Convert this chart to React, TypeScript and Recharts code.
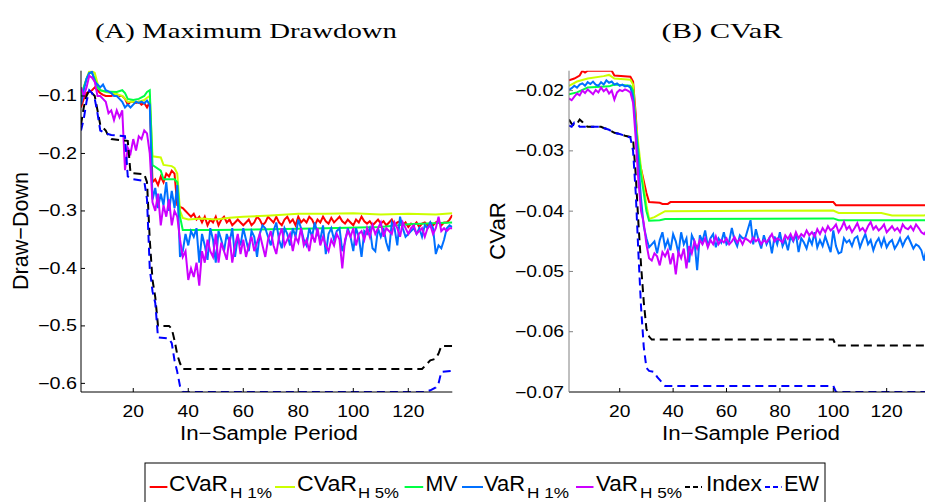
import React from 'react';
import { LineChart, Line, XAxis, YAxis } from 'recharts';

// ---------- Panel A: Maximum Drawdown (period 1..136) ----------
const ddCVaR1: number[] = [
  -0.12,-0.105,-0.095,-0.093,-0.09,-0.085,-0.09,-0.095,-0.098,-0.1,-0.1,-0.1,-0.098,-0.097,-0.1,-0.1,-0.105,-0.115,-0.11,-0.11,-0.112,-0.11,-0.115,-0.112,-0.12,-0.11,-0.25,
  -0.245,-0.255,-0.24,-0.25,-0.235,-0.24,-0.23,-0.235,-0.29,
  -0.293,-0.295,-0.3,-0.305,-0.31,-0.305,-0.315,-0.31,-0.32,-0.31,
  -0.325,-0.315,-0.32,-0.31,-0.325,-0.315,-0.31,-0.32,-0.315,-0.325,
  -0.32,-0.315,-0.32,-0.325,-0.32,-0.315,-0.325,-0.32,-0.31,-0.315,
  -0.325,-0.32,-0.31,-0.315,-0.32,-0.31,-0.32,-0.325,-0.315,-0.31,
  -0.32,-0.315,-0.325,-0.31,-0.32,-0.315,-0.32,-0.31,-0.315,-0.325,
  -0.315,-0.32,-0.31,-0.318,-0.322,-0.312,-0.32,-0.315,-0.31,-0.318,
  -0.322,-0.315,-0.32,-0.325,-0.315,-0.32,-0.31,-0.318,-0.322,-0.318,
  -0.325,-0.32,-0.315,-0.322,-0.318,-0.325,-0.32,-0.315,-0.325,-0.32,
  -0.318,-0.325,-0.32,-0.328,-0.322,-0.325,-0.32,-0.328,-0.322,-0.32,
  -0.325,-0.32,-0.325,-0.32,-0.318,-0.325,-0.32,-0.32,-0.315,-0.307,
];
const ddCVaR5P: number[] = [1,2,3,4,5,6,7,8,10,12,14,16,17,18,22,24,25,26,27,30,31,34,35,36,37,38,40,45,50,55,60,70,80,90,100,110,120,130,136];
const ddCVaR5V: number[] = [-0.105,-0.085,-0.07,-0.057,-0.057,-0.06,-0.078,-0.09,-0.093,-0.095,-0.097,-0.1,-0.105,-0.11,-0.11,-0.107,-0.103,-0.1,-0.205,-0.207,-0.22,-0.222,-0.225,-0.235,-0.3,-0.312,-0.315,-0.313,-0.315,-0.312,-0.31,-0.308,-0.305,-0.305,-0.304,-0.306,-0.305,-0.306,-0.304];
const ddMVP: number[] = [1,2,3,4,5,6,7,8,10,14,16,17,18,20,22,24,25,26,27,30,31,35,36,37,38,50,70,90,110,120,136];
const ddMVV: number[] = [-0.1,-0.085,-0.07,-0.06,-0.06,-0.07,-0.085,-0.09,-0.092,-0.093,-0.09,-0.095,-0.105,-0.107,-0.105,-0.1,-0.093,-0.09,-0.22,-0.23,-0.245,-0.245,-0.25,-0.31,-0.333,-0.333,-0.332,-0.33,-0.328,-0.323,-0.32];
const ddVaR1: number[] = [
  -0.115,-0.09,-0.07,-0.06,-0.058,-0.075,-0.08,-0.085,-0.08,-0.09,-0.092,-0.095,-0.1,-0.1,-0.105,-0.11,-0.12,-0.115,-0.12,-0.115,-0.11,-0.112,-0.11,-0.113,-0.108,-0.115,
  -0.28,-0.26,-0.295,-0.27,-0.29,-0.25,-0.3,-0.265,-0.295,-0.255,
  -0.38,-0.37,-0.34,-0.36,-0.335,-0.345,-0.33,-0.39,-0.34,-0.36,
  -0.385,-0.33,-0.35,-0.39,-0.335,-0.35,-0.37,-0.34,-0.355,-0.33,
  -0.38,-0.345,-0.36,-0.33,-0.35,-0.37,-0.335,-0.345,-0.38,-0.34,
  -0.325,-0.33,-0.345,-0.36,-0.335,-0.32,-0.35,-0.365,-0.33,-0.34,
  -0.36,-0.33,-0.345,-0.315,-0.33,-0.35,-0.36,-0.33,-0.345,-0.32,
  -0.34,-0.35,-0.325,-0.375,-0.34,-0.33,-0.35,-0.335,-0.33,-0.37,
  -0.355,-0.33,-0.345,-0.37,-0.33,-0.345,-0.38,-0.335,-0.34,-0.33,
  -0.365,-0.37,-0.33,-0.345,-0.33,-0.355,-0.37,-0.32,-0.33,-0.36,
  -0.31,-0.33,-0.345,-0.34,-0.335,-0.33,-0.34,-0.33,-0.345,-0.325,
  -0.33,-0.32,-0.33,-0.375,-0.36,-0.365,-0.35,-0.33,-0.325,-0.328,
];
const ddVaR5: number[] = [
  -0.085,-0.1,-0.085,-0.065,-0.068,-0.075,-0.1,-0.1,-0.105,-0.11,-0.13,-0.125,-0.142,-0.125,-0.137,-0.125,-0.229,-0.19,-0.2,-0.175,-0.195,-0.17,-0.175,-0.16,-0.165,-0.2,-0.285,
  -0.3,-0.27,-0.325,-0.29,-0.31,-0.28,-0.325,-0.3,-0.31,
  -0.35,-0.38,-0.37,-0.42,-0.4,-0.415,-0.39,-0.43,-0.37,-0.39,
  -0.35,-0.37,-0.38,-0.34,-0.39,-0.355,-0.37,-0.385,-0.345,-0.39,
  -0.36,-0.34,-0.375,-0.35,-0.38,-0.36,-0.345,-0.37,-0.355,-0.34,
  -0.36,-0.38,-0.35,-0.335,-0.36,-0.375,-0.345,-0.33,-0.36,-0.35,
  -0.34,-0.37,-0.345,-0.355,-0.33,-0.36,-0.35,-0.37,-0.34,-0.355,
  -0.33,-0.36,-0.345,-0.36,-0.37,-0.35,-0.36,-0.34,-0.35,-0.4,
  -0.35,-0.335,-0.345,-0.33,-0.36,-0.34,-0.335,-0.35,-0.33,-0.345,
  -0.325,-0.34,-0.33,-0.32,-0.345,-0.33,-0.335,-0.34,-0.32,-0.33,
  -0.345,-0.32,-0.33,-0.34,-0.33,-0.325,-0.34,-0.335,-0.33,-0.345,
  -0.33,-0.325,-0.34,-0.33,-0.31,-0.335,-0.33,-0.335,-0.33,-0.33,
];
const ddIndexP: number[] = [1,2,3,4,5,6,7,8,9,10,11,12,18,19,24,25,26,27,28,29,33,34,35,36,37,38,125,126,128,130,131,132,136];
const ddIndexV: number[] = [-0.15,-0.12,-0.1,-0.09,-0.095,-0.1,-0.125,-0.15,-0.155,-0.16,-0.17,-0.175,-0.178,-0.234,-0.236,-0.25,-0.35,-0.42,-0.45,-0.5,-0.5,-0.505,-0.525,-0.55,-0.565,-0.575,-0.575,-0.57,-0.56,-0.557,-0.548,-0.535,-0.535];
const ddEWP: number[] = [1,2,3,4,5,6,7,8,10,12,17,18,20,24,25,26,27,28,29,33,34,35,36,37,38,126,128,130,131,132,136];
const ddEWV: number[] = [-0.16,-0.14,-0.11,-0.09,-0.095,-0.105,-0.13,-0.16,-0.165,-0.168,-0.17,-0.24,-0.245,-0.248,-0.28,-0.4,-0.44,-0.46,-0.52,-0.522,-0.53,-0.56,-0.58,-0.605,-0.615,-0.615,-0.612,-0.607,-0.6,-0.58,-0.578];

// ---------- Panel B: CVaR ----------
const cvCVaR1P: number[] = [1,3,5,6,7,8,17,18,24,25,26,27,28,29,30,31,35,36,38,39,100,101,136];
const cvCVaR1V: number[] = [-0.0183,-0.018,-0.0175,-0.0167,-0.017,-0.0167,-0.0167,-0.0175,-0.0177,-0.0185,-0.024,-0.031,-0.033,-0.035,-0.037,-0.0385,-0.0386,-0.0388,-0.0388,-0.0385,-0.0385,-0.039,-0.039];
const cvCVaR5P: number[] = [1,4,8,14,16,18,24,25,26,28,30,31,33,35,37,100,102,118,120,122,134,136];
const cvCVaR5V: number[] = [-0.0192,-0.0185,-0.018,-0.0176,-0.0174,-0.018,-0.0182,-0.019,-0.025,-0.033,-0.039,-0.0413,-0.041,-0.0405,-0.04,-0.0399,-0.0403,-0.0403,-0.0405,-0.0407,-0.0407,-0.0405];
const cvMVP: number[] = [1,4,8,16,18,24,25,26,28,30,31,35,37,100,102,136];
const cvMVV: number[] = [-0.0206,-0.0203,-0.0195,-0.0193,-0.019,-0.0192,-0.02,-0.026,-0.034,-0.04,-0.0416,-0.0415,-0.0413,-0.0412,-0.0415,-0.0415];
const cvVaR1: number[] = [
  -0.0199,-0.0196,-0.0192,-0.0195,-0.019,-0.0188,-0.0192,-0.0186,-0.0189,-0.0185,-0.019,-0.0192,-0.0186,-0.019,-0.0183,-0.0187,-0.0185,-0.019,-0.0188,-0.0192,-0.019,-0.0193,-0.0192,-0.0195,-0.021,
  -0.026,-0.032,-0.038,-0.0425,-0.0445,-0.046,-0.0455,-0.045,
  -0.047,-0.0448,-0.0435,-0.046,-0.0448,-0.0465,-0.0438,-0.045,-0.047,-0.0435,
  -0.0455,-0.0445,-0.0485,-0.044,-0.045,-0.0498,-0.044,-0.045,-0.0432,-0.0458,
  -0.0445,-0.0438,-0.046,-0.0445,-0.0452,-0.0435,-0.0455,-0.045,-0.0428,-0.0448,
  -0.0458,-0.044,-0.0445,-0.0445,-0.043,-0.0415,-0.0455,-0.043,-0.0448,-0.0462,
  -0.044,-0.0455,-0.0445,-0.047,-0.0442,-0.0455,-0.0435,-0.0458,-0.0448,-0.0465,
  -0.0442,-0.045,-0.0438,-0.0468,-0.0445,-0.0452,-0.0462,-0.0445,-0.0455,-0.0435,
  -0.046,-0.0448,-0.0458,-0.0442,-0.0455,-0.0468,-0.0432,-0.0458,-0.047,-0.0468,
  -0.0445,-0.0452,-0.0448,-0.0458,-0.0445,-0.0442,-0.046,-0.0448,-0.0438,-0.0455,
  -0.0448,-0.0465,-0.0452,-0.0445,-0.0458,-0.0445,-0.046,-0.0452,-0.0448,-0.0462,
  -0.0455,-0.0445,-0.0458,-0.0448,-0.0442,-0.0452,-0.0462,-0.0455,-0.0458,-0.0465,
  -0.0482,-0.046,-0.0455,
];
const cvVaR5: number[] = [
  -0.0213,-0.0216,-0.021,-0.0205,-0.0208,-0.02,-0.0204,-0.0198,-0.0202,-0.0206,-0.0199,-0.0203,-0.0195,-0.0201,-0.0197,-0.0205,-0.02,-0.0215,-0.0203,-0.0199,-0.0201,-0.0198,-0.02,-0.0203,-0.022,
  -0.028,-0.035,-0.04,-0.042,-0.0455,-0.0478,-0.0482,-0.047,-0.0475,-0.049,-0.0468,
  -0.0475,-0.0465,-0.0488,-0.047,-0.0505,-0.0468,-0.0478,-0.0462,-0.0495,-0.0458,
  -0.047,-0.045,-0.0462,-0.0448,-0.0455,-0.0445,-0.046,-0.0448,-0.0455,-0.0442,
  -0.0455,-0.0448,-0.0452,-0.0445,-0.0455,-0.045,-0.0443,-0.0452,-0.0446,-0.0455,
  -0.0445,-0.0448,-0.0452,-0.0444,-0.045,-0.0446,-0.0455,-0.0448,-0.0452,-0.0445,
  -0.0438,-0.045,-0.0445,-0.0448,-0.0452,-0.044,-0.0446,-0.0438,-0.0448,-0.0435,
  -0.0445,-0.0438,-0.0442,-0.0432,-0.044,-0.0435,-0.0442,-0.043,-0.0438,-0.0428,
  -0.0435,-0.0425,-0.0432,-0.0428,-0.0422,-0.0435,-0.0428,-0.0418,-0.043,-0.0425,
  -0.0435,-0.0428,-0.042,-0.0432,-0.0428,-0.0435,-0.0425,-0.0418,-0.043,-0.0425,
  -0.0432,-0.0428,-0.0422,-0.0435,-0.043,-0.0425,-0.0432,-0.0428,-0.0435,-0.0422,
  -0.0428,-0.043,-0.0425,-0.0432,-0.0422,-0.0428,-0.0435,-0.0438,-0.0432,-0.044,
];
const cvIndexP: number[] = [1,2,3,4,5,6,7,8,13,14,16,18,20,22,24,25,26,27,28,29,30,31,32,100,101,136];
const cvIndexV: number[] = [-0.0248,-0.0255,-0.0258,-0.0255,-0.0248,-0.0252,-0.0258,-0.026,-0.026,-0.0262,-0.0265,-0.027,-0.0272,-0.0275,-0.0277,-0.028,-0.034,-0.042,-0.049,-0.055,-0.0595,-0.0608,-0.0613,-0.0613,-0.0623,-0.0623];
const cvEWP: number[] = [1,2,3,4,5,13,14,16,18,20,22,24,25,26,27,28,29,30,31,33,34,35,36,37,100,101,136];
const cvEWV: number[] = [-0.0258,-0.026,-0.0253,-0.0255,-0.026,-0.026,-0.0262,-0.0265,-0.027,-0.0272,-0.0275,-0.0278,-0.03,-0.037,-0.047,-0.056,-0.0625,-0.066,-0.0665,-0.0667,-0.0675,-0.068,-0.0685,-0.069,-0.069,-0.07,-0.07];

const xTicks: number[] = [20, 40, 60, 80, 100, 120];
const ddTicks: number[] = [-0.6, -0.5, -0.4, -0.3, -0.2, -0.1];
const cvTicks: number[] = [-0.07, -0.06, -0.05, -0.04, -0.03, -0.02];

const seriesNames = ['CVaR', 'CVaR', 'MV', 'VaR', 'VaR', 'Index', 'EW'];
const seriesSubs = ['H 1%', 'H 5%', '', 'H 1%', 'H 5%', '', ''];
const colors = ['#ff0000', '#ccff00', '#00ff44', '#0070ff', '#cc00ff', '#000000', '#0000ff'];
const dashes = ['', '', '', '', '', '8 5', '8 5'];

const full = (vals: number[]) => vals.map((v, i) => ({ p: i + 1, v }));
const pairs = (ps: number[], vs: number[]) => ps.map((p, i) => ({ p, v: vs[i] }));

const ddSeries = [
  full(ddCVaR1), pairs(ddCVaR5P, ddCVaR5V), pairs(ddMVP, ddMVV), full(ddVaR1), full(ddVaR5),
  pairs(ddIndexP, ddIndexV), pairs(ddEWP, ddEWV),
];
const cvSeries = [
  pairs(cvCVaR1P, cvCVaR1V), pairs(cvCVaR5P, cvCVaR5V), pairs(cvMVP, cvMVV), full(cvVaR1), full(cvVaR5),
  pairs(cvIndexP, cvIndexV), pairs(cvEWP, cvEWV),
];

const SANS = 'Liberation Sans, Arial, Helvetica, sans-serif';
const SERIF = 'Liberation Serif, Times New Roman, serif';

const fmt = (v: number, d: number) => (v < 0 ? '\u2212' : '') + Math.abs(v).toFixed(d);

function Panel(props: {
  series: { p: number; v: number }[][];
  width: number; left: number; right: number;
  yDomain: [number, number]; yTicks: number[]; decimals: number; yLen: number;
  yAxisColor: string; yMargin: number;
}) {
  const { series, width, left, right, yDomain, yTicks, decimals, yLen, yAxisColor, yMargin } = props;
  return (
    <LineChart width={width} height={502} margin={{ top: 70.7, left, right, bottom: 80 }}>
      <XAxis
        type="number" dataKey="p" domain={[1, 136]} ticks={xTicks} allowDataOverflow
        height={30} tickSize={-4} tickMargin={6}
        axisLine={{ stroke: '#000', strokeWidth: 1 }} tickLine={{ stroke: '#000' }}
        tick={(t: any) => (
          <text x={t.x} y={t.y + 23} textAnchor="middle" fontSize={16} fontFamily={SANS} fill="#000"
            textLength={String(t.payload.value).length * 10.7} lengthAdjust="spacingAndGlyphs">
            {String(t.payload.value)}
          </text>
        )}
      />
      <YAxis
        type="number" domain={yDomain} ticks={yTicks} allowDataOverflow width={60}
        tickSize={-4} tickMargin={yMargin}
        axisLine={{ stroke: yAxisColor, strokeWidth: 1 }} tickLine={{ stroke: yAxisColor }}
        tick={(t: any) => (
          <text x={t.x} y={t.y + 5.5} textAnchor="end" fontSize={16} fontFamily={SANS} fill="#000"
            textLength={yLen} lengthAdjust="spacingAndGlyphs">
            {fmt(t.payload.value, decimals)}
          </text>
        )}
      />
      {series.map((d, i) => (
        <Line key={i} data={d} dataKey="v" type="linear" stroke={colors[i]} strokeWidth={2}
          strokeDasharray={dashes[i] || undefined} dot={false} activeDot={false}
          isAnimationActive={false} />
      ))}
    </LineChart>
  );
}

const legendLines: [number, number][] = [[149.7, 167.4], [275, 295], [404.6, 423.2], [462, 483], [576, 593.5], [685, 702], [765, 781.6]];
const legendText: [number, number][] = [[169, 59], [297, 60], [425.5, 32], [484, 41], [596, 42], [706, 56], [784, 35]];
const legendSub: [number, number][] = [[230, 42], [358, 41], [0, 0], [527, 42], [640, 42], [0, 0], [0, 0]];

export default function App() {
  return (
    <div style={{ position: 'absolute', left: 0, top: 0, width: 925, height: 502, overflow: 'hidden', background: '#fff' }}>
      <div style={{ position: 'absolute', left: 0, top: 0 }}>
        <Panel series={ddSeries} width={470} left={21} right={17.7} yDomain={[-0.615, -0.056]}
          yTicks={ddTicks} decimals={1} yLen={39} yAxisColor="#000" yMargin={8} />
      </div>
      <div style={{ position: 'absolute', left: 470, top: 0 }}>
        <Panel series={cvSeries} width={462} left={39} right={2.6} yDomain={[-0.07, -0.0167]}
          yTicks={cvTicks} decimals={2} yLen={49} yAxisColor="#808080" yMargin={9} />
      </div>
      <svg width={925} height={502} style={{ position: 'absolute', left: 0, top: 0, pointerEvents: 'none' }}>
        <text x={246} y={38} textAnchor="middle" fontFamily={SERIF} fontSize={22} fill="#000"
          textLength={302} lengthAdjust="spacingAndGlyphs">(A) Maximum Drawdown</text>
        <text x={722} y={38} textAnchor="middle" fontFamily={SERIF} fontSize={22} fill="#000"
          textLength={121} lengthAdjust="spacingAndGlyphs">(B) CVaR</text>
        <text x={28} y={231} transform="rotate(-90 28 231)" textAnchor="middle" fontFamily={SANS} fontSize={22}
          fill="#000" textLength={118} lengthAdjust="spacingAndGlyphs">Draw{'\u2212'}Down</text>
        <text x={505} y={231} transform="rotate(-90 505 231)" textAnchor="middle" fontFamily={SANS} fontSize={22}
          fill="#000" textLength={58} lengthAdjust="spacingAndGlyphs">CVaR</text>
        <text x={269} y={440} textAnchor="middle" fontFamily={SANS} fontSize={20} fill="#000"
          textLength={178} lengthAdjust="spacingAndGlyphs">In{'\u2212'}Sample Period</text>
        <text x={751} y={440} textAnchor="middle" fontFamily={SANS} fontSize={20} fill="#000"
          textLength={178} lengthAdjust="spacingAndGlyphs">In{'\u2212'}Sample Period</text>
        <rect x={145} y={463} width={680} height={60} fill="#fff" stroke="#000" strokeWidth={1} />
        {seriesNames.map((name, i) => (
          <g key={i}>
            <line x1={legendLines[i][0]} x2={legendLines[i][1]} y1={487} y2={487} stroke={colors[i]} strokeWidth={2}
              strokeDasharray={dashes[i] ? '5 3' : undefined} />
            <text x={legendText[i][0]} y={491} fontFamily={SANS} fontSize={22} fill="#000"
              textLength={legendText[i][1]} lengthAdjust="spacingAndGlyphs">{name}</text>
            {seriesSubs[i] ? (
              <text x={legendSub[i][0]} y={498} fontFamily={SANS} fontSize={14} fill="#000"
                textLength={legendSub[i][1]} lengthAdjust="spacingAndGlyphs">{seriesSubs[i]}</text>
            ) : null}
          </g>
        ))}
      </svg>
    </div>
  );
}
